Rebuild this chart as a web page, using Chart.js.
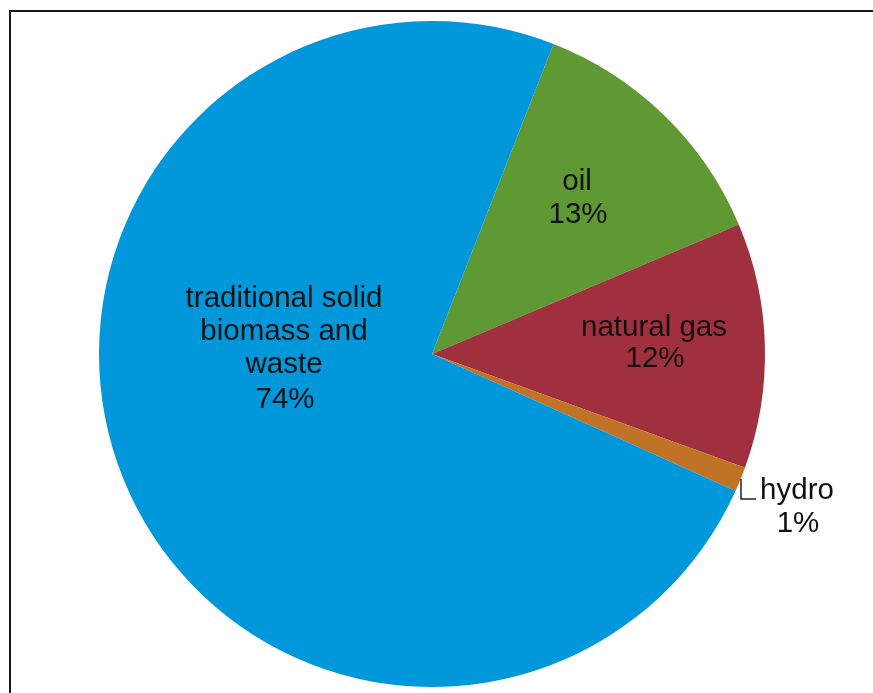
<!DOCTYPE html>
<html>
<head>
<meta charset="utf-8">
<script src="https://cdn.jsdelivr.net/npm/chart.js@4.4.1/dist/chart.umd.min.js"></script>
<style>
  html, body { margin: 0; padding: 0; background: #fff; overflow: hidden; }
  #wrap { position: relative; width: 873px; height: 693px; }
  #frame { position: absolute; left: 9px; top: 10px; width: 900px; height: 720px; border-left: 2px solid #1a1a1a; border-top: 2px solid #1a1a1a; }
  #pie { position: absolute; left: 0; top: 0; }
</style>
</head>
<body>
<div id="wrap">
  <div id="frame"></div>
  <canvas id="pie" width="873" height="693"></canvas>
</div>
<script>
// --- DATA ---
const categories = [['oil'], ['natural gas'], ['hydro'], ['traditional solid', 'biomass and', 'waste']];
const shares = [12.7, 11.9, 1.2, 74.2];
const pctLabels = ['13%', '12%', '1%', '74%'];
const colors = ['#5e9934', '#a0303e', '#c07326', '#0098da'];

// --- LABEL PLACEMENT (px from pie centre: x centre, first baseline) ---
const labelSpots = [
    { dx: 145, dy: -164, gap: 33 },
    { dx: 222, dy: -18, gap: 31 },
    { dx: 365, dy: 145, gap: 33 },
    { dx: -148, dy: -47, gap: 33, lastGap: 35 }
];

const sliceLabels = {
    id: 'sliceLabels',
    afterDatasetsDraw(chart) {
        const ctx = chart.ctx;
        const arcs = chart.getDatasetMeta(0).data;
        const cx = arcs[0].x, cy = arcs[0].y;
        ctx.save();
        ctx.fillStyle = '#111';
        ctx.font = '29.5px "Liberation Sans", Arial, sans-serif';
        ctx.textAlign = 'center';
        ctx.textBaseline = 'alphabetic';
        categories.forEach((lines, i) => {
            const s = labelSpots[i];
            let y = cy + s.dy;
            lines.forEach(t => { ctx.fillText(t, cx + s.dx, y); y += s.gap; });
            if (s.lastGap) y += s.lastGap - s.gap;
            ctx.fillText(pctLabels[i], cx + s.dx + 1, y);
        });
        // leader for the thin hydro slice
        ctx.strokeStyle = '#222';
        ctx.lineWidth = 1.5;
        ctx.beginPath();
        ctx.moveTo(cx + 309, cy + 125);
        ctx.lineTo(cx + 309, cy + 145);
        ctx.lineTo(cx + 324, cy + 145);
        ctx.stroke();
        ctx.restore();
    }
};

new Chart(document.getElementById('pie'), {
    type: 'pie',
    data: {
        labels: categories.map(c => c.join(' ')),
        datasets: [{
            data: shares,
            backgroundColor: colors,
            borderWidth: 0,
            hoverOffset: 0
        }]
    },
    options: {
        responsive: false,
        animation: false,
        devicePixelRatio: 1,
        rotation: 21.4,
        layout: { padding: { left: 99, top: 21, right: 108, bottom: 6 } },
        plugins: { legend: { display: false }, tooltip: { enabled: false } }
    },
    plugins: [sliceLabels]
});
</script>
</body>
</html>
